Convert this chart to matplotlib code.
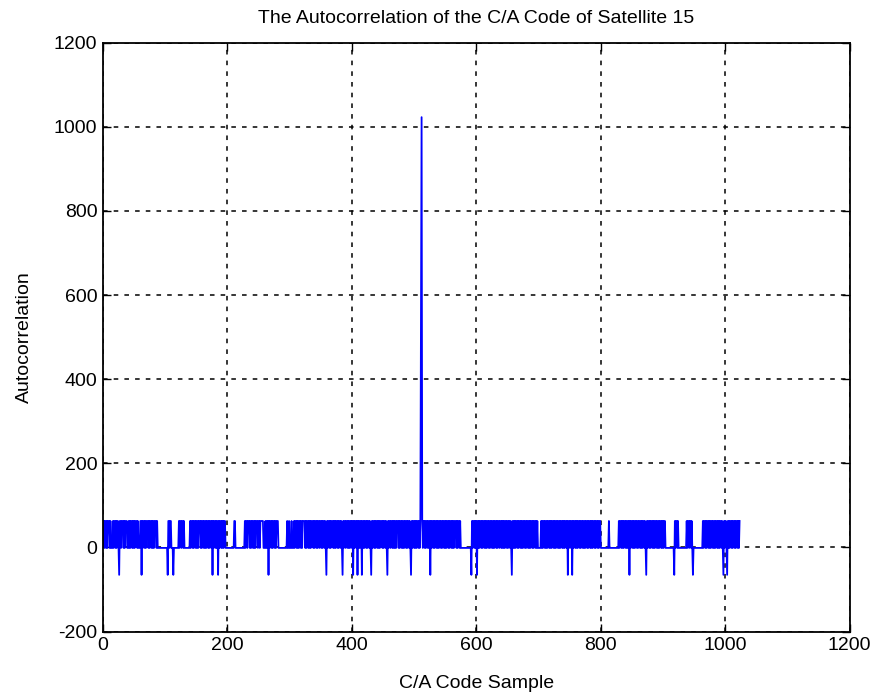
import numpy as np
import matplotlib.pyplot as plt

# autocorrelation, one char per sample (samples 1..1023)
# h = 63, l = -1, n = -65, M = shoulder next to the peak, P = main peak
code_pattern = (
    "hlhhlhlhhh" "lhlllhlhhl" "hlhhlnhhlh" "hhlhlhhhll" "hlhlhhlhlh"
    "lhhhlhlllh" "hnhlhhlhlh" "hhlhlhhlhl" "hlhhhlhlll" "llllllllll"
    "lllnhhlhhl" "llnlllllll" "lhlhhlhhlh" "lllllllllh" "lhhlhlhhlh"
    "lhlhhhlhlh" "hlhlhlhhlh" "lhhlhnhlhh" "lhlhnhlhhl" "hlhlhhllll"
    "llllllllll" "hhllllllll" "lllllllhlh" "hlhhhlhlhh" "lhlhlhhhlh"
    "hlhhhhhlll" "hlhlhnhlhh" "lhlhhlhlhh" "hlllllllll" "lllllhllhl"
    "llhlllhlhh" "lhlhlhhlhl" "hhhhlhlhhl" "hlhlhhhlhl" "hhlhlhhlhh"
    "lhlhhlhlnh" "lhhlhlhhhl" "hlhlhhlhlh" "hlhlnhlhhl" "hhlhlhlhhl"
    "hnhlhhlhnh" "lhlhhnhlhl" "hhlhlhhlhl" "nhlhhlhlhh" "lhlhlhhhlh"
    "lhhlhlnhlh" "hlhhlhlhlh" "lhhhlhlhhl" "hlhlhhlhlh" "hlhlnhlhhl"
    "hlhlhhlhlh" "MPhlhhlhlh" "hlhlhnhlhh" "lhlhhlhlhl" "hhlhlhhlhl"
    "hlhhlhlhhl" "hlhlhhhlhl" "hhlhllllll" "llllllllll" "lnhlhhlhlh"
    "nhlhlhhlhl" "hhlhlhlhhl" "hlhhlhlhlh" "hlhlhhlhhl" "hlhlhlhhlh"
    "lhhlhlnhlh" "lhlhhlhlhh" "lhlhlhhlhl" "hhlhlhlhhl" "hlhhlhlhll"
    "lllhlhlhhl" "hlhlhhlhlh" "lhhlhlhlhh" "lhlhlhhlhl" "hlhhlhnhlh"
    "hlhnhlhhlh" "lhlhhlhlhh" "lhlhlhhlhl" "hhlhlhlhhl" "hlhhlhlhhl"
    "llllllllll" "llhlllllll" "llllllllhl" "hhlhlhlhhl" "hlhlhnhlhh"
    "lhlhlhhlhl" "hhlhlhlhhl" "hlnhlhhlhl" "hhlhlhlhhl" "hlhlhhlhlh"
    "lhhlllllll" "lllllllnhl" "hhlhllllll" "lllllllhlh" "hlhhlhlnll"
    "llllllllll" "lllhlhhlhl" "hhlhlhlhhl" "hlhlhhlhlh" "lhhlhlnhlh"
    "hlnhlhlhhl" "hlhhlhlhhl" "hlh"
)
levels = {"h": 63, "l": -1, "n": -65, "M": 543, "P": 1023}

samples = np.arange(1, len(code_pattern) + 1)
autocorr = np.array([levels[c] for c in code_pattern])

x_ticks = [0, 200, 400, 600, 800, 1000, 1200]
y_ticks = [-200, 0, 200, 400, 600, 800, 1000, 1200]

plt.rcParams['font.family'] = ['Liberation Sans Narrow', 'Liberation Sans', 'DejaVu Sans']
plt.rcParams['axes.unicode_minus'] = False

fig = plt.figure(figsize=(8.78, 6.98), dpi=100)
ax = fig.add_axes([0.1173, 0.0951, 0.8505, 0.8437])

ax.plot(samples, autocorr, color=(0, 0, 1), linewidth=1.3)

ax.set_xlim(0, 1200)
ax.set_ylim(-200, 1200)
ax.set_xticks(x_ticks)
ax.set_yticks(y_ticks)
ax.tick_params(direction='in', length=6, width=1, top=True, right=True, labelsize=14, pad=4)
ax.grid(True, color='black', linestyle=(0, (3, 4)), linewidth=1.1)
for s in ax.spines.values():
    s.set_linewidth(1.3)

ax.set_title('The Autocorrelation of the C/A Code of Satellite 15', fontsize=14, pad=14)
ax.set_xlabel('C/A Code Sample', fontsize=14, labelpad=15)
ax.set_ylabel('Autocorrelation', fontsize=14, labelpad=15)

fig.savefig('out.png', dpi=100, facecolor='white')
